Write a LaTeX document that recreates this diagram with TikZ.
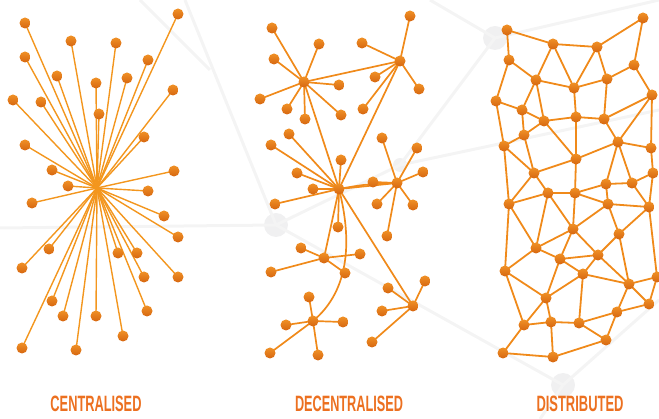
\documentclass[tikz,border=0pt]{standalone}
\usepackage{fontspec}
\setmainfont{Liberation Sans}
\usepackage{graphicx}
\definecolor{edgeC}{RGB}{243,150,30}
\definecolor{edgeD}{RGB}{240,138,26}
\definecolor{dotA}{RGB}{240,145,38}
\definecolor{dotB}{RGB}{214,102,16}
\definecolor{labC}{RGB}{236,112,32}
\definecolor{bgL}{RGB}{244,244,244}
\definecolor{bgC}{RGB}{240,240,241}
\pgfdeclarelayer{background}
\pgfdeclarelayer{faint}
\pgfsetlayers{faint,background,main}
\tikzset{
  dot/.style={circle, inner sep=0pt, minimum size=11pt, top color=dotA, bottom color=dotB, draw=none},
  spoke/.style={draw=edgeC, line width=1.4pt},
  link/.style={draw=edgeD, line width=1.7pt},
  mesh/.style={draw=edgeD, line width=1.8pt},
  faintline/.style={draw=bgL, line width=3pt},
  faintdot/.style={circle, fill=bgC, minimum size=24pt, inner sep=0pt},
  caption/.style={text=labC, inner sep=0pt, anchor=base}
}
\newcommand{\caplabel}[2]{\resizebox{#1}{15.5pt}{\bfseries #2}}
\begin{document}
\begin{tikzpicture}[x=1pt,y=-1pt]
\useasboundingbox (0,0) rectangle (659,419);
% faint background network
\begin{pgfonlayer}{faint}
\node[faintdot] (g1) at (276,225) {};
\node[faintdot] (g2) at (495,38) {};
\node[faintdot] (g3) at (563,385) {};
\node[faintdot, minimum size=14pt] (g4) at (400,165) {};
\coordinate (h1) at (185,0);
\coordinate (h2) at (0,228);
\coordinate (h3) at (659,110);
\coordinate (h4) at (659,300);
\coordinate (h5) at (540,419);
\coordinate (h6) at (659,0);
\coordinate (h7) at (430,0);
\coordinate (h8) at (140,0);
\coordinate (h9) at (210,70);
\draw[faintline] (h1) -- (g1.center);
\draw[faintline] (h2) -- (g1.center);
\draw[faintline] (g1.center) -- (g4.center);
\draw[faintline] (g4.center) -- (g2.center);
\draw[faintline] (g4.center) -- (h3);
\draw[faintline] (g1.center) -- (g3.center);
\draw[faintline] (g3.center) -- (h4);
\draw[faintline] (g3.center) -- (h5);
\draw[faintline] (g2.center) -- (h6);
\draw[faintline] (g2.center) -- (h7);
\draw[faintline] (h8) -- (h9);
\end{pgfonlayer}

% ---------------- CENTRALISED ----------------
\coordinate (hub) at (97,188);
\foreach \i/\x/\y in {1/25/23,2/178/14,3/71/41,4/116/43,5/25/57,6/148/60,7/57/76,8/96/83,9/127/78,10/173/90,
  11/13/100,12/41/102,13/99/114,14/144/137,15/25/145,16/52/170,17/174/171,18/68/186,19/32/203,20/148/191,
  21/164/216,22/178/237,23/49/249,24/22/268,25/118/253,26/137/253,27/144/277,28/178/277,29/52/301,30/63/316,
  31/96/316,32/147/311,33/123/336,34/22/348,35/76/350}{
  \node[dot] (c\i) at (\x,\y) {};
  \begin{pgfonlayer}{background}
    \draw[spoke] (hub) -- (c\i.center);
  \end{pgfonlayer}
}

% ---------------- DECENTRALISED ----------------
\node[dot] (A) at (304,82) {};
\node[dot] (B) at (400,61) {};
\node[dot] (C) at (339,189) {};
\node[dot] (D) at (397,183) {};
\node[dot] (E) at (324,258) {};
\node[dot] (F) at (313,321) {};
\node[dot] (G) at (413,306) {};
\foreach \h/\i/\x/\y in {A/1/272/28,A/2/319/44,A/3/274/59,A/4/339/85,A/5/260/99,A/6/287/109,A/7/305/119,A/8/341/115,
  B/1/410/16,B/2/362/43,B/3/375/77,B/4/419/89,B/5/363/109,
  C/1/289/134,C/2/271/145,C/3/341/160,C/4/297/173,C/5/313/189,C/6/275/204,C/7/338/227,
  D/1/382/138,D/2/417/148,D/3/423/172,D/4/373/182,D/5/377/204,D/6/413/205,D/7/387/236,
  E/1/301/248,E/2/360/254,E/3/271/272,E/4/345/273,
  F/1/309/297,F/2/286/325,F/3/343/322,F/4/270/353,F/5/318/355,
  G/1/388/288,G/2/425/281,G/3/382/311,G/4/372/342}{
  \node[dot] (\h\i) at (\x,\y) {};
  \begin{pgfonlayer}{background}
    \draw[link] (\h.center) -- (\h\i.center);
  \end{pgfonlayer}
}
\begin{pgfonlayer}{background}
\draw[link] (A.center) -- (B.center);
\draw[link] (A.center) -- (C.center);
\draw[link] (B.center) -- (C.center);
\draw[link] (C.center) -- (D.center);
\draw[link] (C.center) to[bend left=5] (D.center);
\draw[link] (C.center) -- (E.center);
\draw[link] (C.center) .. controls (352,240) and (350,290) .. (F.center);
\draw[link] (C.center) -- (G.center);
\end{pgfonlayer}

% ---------------- DISTRIBUTED ----------------
\foreach \i/\x/\y in {1/507/30,2/553/44,3/597/47,4/643/18,5/509/60,6/536/80,7/574/88,8/607/79,9/634/65,
  10/496/101,11/522/110,12/652/95,13/544/121,14/576/117,15/604/119,16/524/135,17/504/146,18/618/142,
  19/651/148,20/576/159,21/534/173,22/653/173,23/606/184,24/632/183,25/548/193,26/575/193,27/509/204,
  28/608/204,29/649/207,30/573/229,31/619/234,32/536/248,33/598/255,34/560/259,35/505/271,36/583/274,
  37/629/284,38/657/277,39/546/298,40/649/304,41/617/312,42/524/325,43/551/322,44/579/323,45/606/340,
  46/503/353,47/553/357}{
  \node[dot] (n\i) at (\x,\y) {};
}
\begin{pgfonlayer}{background}
\foreach \a/\b in {1/2,2/3,3/4,4/9,1/5,5/6,2/6,2/7,3/7,3/8,6/7,7/8,8/9,9/12,5/10,10/11,6/11,6/13,11/13,
  11/16,10/17,16/17,13/14,7/14,14/15,8/15,15/12,12/18,12/19,13/16,13/20,14/20,18/20,15/18,18/19,18/23,
  18/24,19/22,22/24,23/24,20/21,16/21,17/21,20/26,21/25,25/26,26/23,26/28,23/28,24/29,22/29,28/29,
  17/27,21/27,25/27,25/32,25/30,26/30,28/30,28/31,29/31,29/38,30/32,30/34,30/33,31/33,33/34,33/36,
  33/37,34/36,34/39,32/34,32/35,27/32,27/35,35/39,35/42,36/39,36/44,36/37,31/37,37/38,37/40,38/40,
  37/41,39/42,39/43,42/43,43/44,44/41,44/45,41/45,43/47,42/46,46/47,47/45,40/41}{
  \draw[mesh] (n\a.center) -- (n\b.center);
}
\end{pgfonlayer}

% ---------------- captions ----------------
\node[caption] (t1) at (96,412) {\caplabel{91pt}{CENTRALISED}};
\node[caption] (t2) at (349,412) {\caplabel{108pt}{DECENTRALISED}};
\node[caption] (t3) at (580,412) {\caplabel{87pt}{DISTRIBUTED}};
\end{tikzpicture}
\end{document}
